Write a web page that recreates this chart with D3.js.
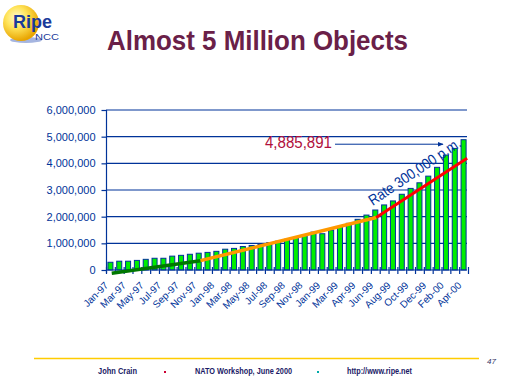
<!DOCTYPE html>
<html><head><meta charset="utf-8">
<script src="https://cdn.jsdelivr.net/npm/d3@7"></script>
<style>body{margin:0;background:#fff;} svg{display:block;font-family:Arial,"Liberation Sans",sans-serif;}</style>
</head><body>
<svg id="c" width="512" height="384"></svg>
<script>
// ---- data ----
const categories = ["Jan-97","Feb-97","Mar-97","Apr-97","May-97","Jun-97","Jul-97","Aug-97","Sep-97","Oct-97","Nov-97","Dec-97",
  "Jan-98","Feb-98","Mar-98","Apr-98","May-98","Jun-98","Jul-98","Aug-98","Sep-98","Oct-98","Nov-98","Dec-98",
  "Jan-99","Feb-99","Mar-99","Mar-99 (2)","Apr-99","May-99","Jun-99","Jul-99","Aug-99","Sep-99","Oct-99","Nov-99","Dec-99",
  "Jan-00","Feb-00","Mar-00","Apr-00"];
const objects = [290000,330000,330000,360000,400000,440000,440000,520000,550000,590000,630000,660000,
  700000,780000,810000,880000,920000,960000,1030000,1080000,1150000,1220000,1290000,1420000,
  1360000,1500000,1620000,1750000,1900000,2060000,2250000,2440000,2590000,2840000,3060000,3270000,3520000,
  3850000,4310000,4560000,4885891];
const yTickValues = [0,1000000,2000000,3000000,4000000,5000000,6000000];
const xTickLabels = ["Jan-97","Mar-97","May-97","Jul-97","Sep-97","Nov-97","Jan-98","Mar-98","May-98","Jul-98","Sep-98",
  "Nov-98","Jan-99","Mar-99","Apr-99","Jun-99","Aug-99","Oct-99","Dec-99","Feb-00","Apr-00"];
// trend lines (index position, value)
const trendGreen  = [[0.15,-120000],[10.2,350000]];
const trendOrange = [[10.2,350000],[30.1,1970000]];
const trendRed    = [[30.1,1970000],[40.4,4190000]];
const totalLabel = "4,885,891";
const rateLabel = "Rate 300,000 p.m.";
const title = "Almost 5 Million Objects";
const footer = ["John Crain","NATO Workshop, June 2000","http://www.ripe.net"];
const pageNo = "47";

// ---- drawing ----
const svg = d3.select("#c");
const navy = "#003399";
const N = categories.length;
const x = d3.scaleBand().domain(d3.range(N)).range([106,468]).paddingInner(0.43).paddingOuter(0.215);
const xc = d3.scaleLinear().domain([0,N-1]).range([x(0)+x.bandwidth()/2, x(N-1)+x.bandwidth()/2]);
const y = d3.scaleLinear().domain([0,6000000]).range([270,110]);

// logo
const defs = svg.append("defs");
const rg = defs.append("radialGradient").attr("id","sun").attr("cx","38%").attr("cy","35%").attr("r","65%");
rg.append("stop").attr("offset","0%").attr("stop-color","#fffbd0");
rg.append("stop").attr("offset","45%").attr("stop-color","#ffe45a");
rg.append("stop").attr("offset","100%").attr("stop-color","#e8a400");
svg.append("ellipse").attr("cx",26).attr("cy",40).attr("rx",16).attr("ry",3).attr("fill","#8fa3d8").attr("opacity",0.8);
svg.append("circle").attr("cx",21).attr("cy",23).attr("r",18).attr("fill","url(#sun)");
svg.append("text").attr("x",13).attr("y",28).attr("font-size",18).attr("font-weight","bold")
  .attr("fill","#1a3a9a").attr("textLength",39).attr("lengthAdjust","spacingAndGlyphs").text("Ripe");
svg.append("text").attr("x",35).attr("y",40).attr("font-size",8.5)
  .attr("fill","#1a3a9a").attr("textLength",24).attr("lengthAdjust","spacingAndGlyphs").text("NCC");

// title
svg.append("text").attr("x",107).attr("y",50).attr("font-size",28).attr("font-weight","bold")
  .attr("fill","#6a2048").attr("textLength",301).attr("lengthAdjust","spacingAndGlyphs").text(title);

// gridlines
svg.append("g").selectAll("line").data(yTickValues.slice(1)).join("line")
  .attr("x1",106).attr("x2",467).attr("y1",d=>y(d)).attr("y2",d=>y(d))
  .attr("stroke",navy).attr("stroke-width",1.2);

// bars
svg.append("g").selectAll("rect").data(objects).join("rect")
  .attr("x",(d,i)=>x(i)).attr("width",x.bandwidth())
  .attr("y",d=>y(d)).attr("height",d=>y(0)-y(d))
  .attr("fill","#00ee00").attr("stroke",navy).attr("stroke-width",1);

// y axis
const ya = svg.append("g").attr("transform","translate(106.5,0)")
  .call(d3.axisLeft(y).tickValues(yTickValues).tickSize(5).tickPadding(6).tickFormat(d3.format(",")));
ya.select(".domain").attr("stroke",navy).attr("stroke-width",1.2).attr("d","M0,110V273");
ya.selectAll(".tick line").attr("stroke",navy).attr("stroke-width",1.2);
ya.selectAll(".tick text").attr("fill",navy).attr("font-size",11).attr("font-family","Arial, 'Liberation Sans', sans-serif");

// x axis
const xb = d3.scaleLinear().domain([0,N]).range([106,468]);
const xa = svg.append("g").attr("transform","translate(0,270)")
  .call(d3.axisBottom(xb).tickValues(d3.range(N+1)).tickSize(4).tickFormat(""));
xa.select(".domain").attr("stroke",navy).attr("stroke-width",1.2).attr("d","M106,0H467");
xa.selectAll(".tick line").attr("stroke",navy).attr("stroke-width",1.2).attr("y1",-3);
const labIdx = d3.range(0,N,2);
svg.append("g").selectAll("text").data(labIdx).join("text")
  .attr("transform",i=>`translate(${xc(i)-1.4},286) rotate(-45)`)
  .attr("text-anchor","end").attr("font-size",10).attr("fill",navy)
  .text((i,k)=>xTickLabels[k]);

// trend lines
const line = d3.line().x(d=>xc(d[0])).y(d=>y(d[1]));
svg.append("path").attr("d",line(trendGreen)).attr("stroke","#007700").attr("stroke-width",3.5).attr("fill","none");
svg.append("path").attr("d",line(trendOrange)).attr("stroke","#ff9900").attr("stroke-width",3.5).attr("fill","none");
svg.append("path").attr("d",line(trendRed)).attr("stroke","#ff0000").attr("stroke-width",3).attr("fill","none");

// annotations
const ay = y(objects[N-1]) + 4.5;
svg.append("text").attr("x",265).attr("y",ay+4).attr("font-size",17).attr("fill","#b0103c")
  .attr("textLength",67).attr("lengthAdjust","spacingAndGlyphs").text(totalLabel);
defs.append("marker").attr("id","ah").attr("viewBox","0 0 10 10").attr("refX",9).attr("refY",5)
  .attr("markerWidth",6).attr("markerHeight",6).attr("orient","auto")
  .append("path").attr("d","M0,1L10,5L0,9Z").attr("fill",navy);
svg.append("line").attr("x1",335).attr("x2",443).attr("y1",ay).attr("y2",ay)
  .attr("stroke",navy).attr("stroke-width",1).attr("marker-end","url(#ah)");
svg.append("text").attr("transform",`translate(${xc(29.7)},206) rotate(-34)`)
  .attr("font-size",15).attr("fill",navy).attr("textLength",108).attr("lengthAdjust","spacingAndGlyphs").text(rateLabel);

// footer
svg.append("line").attr("x1",34).attr("x2",479).attr("y1",358.5).attr("y2",358.5).attr("stroke","#ffcc00").attr("stroke-width",1.3);
const fx = [[98,39],[195,97],[347,65]];
footer.forEach((t,k)=>{
  svg.append("text").attr("x",fx[k][0]).attr("y",374).attr("font-size",8.5).attr("font-weight","bold")
    .attr("fill","#1a1a66").attr("textLength",fx[k][1]).attr("lengthAdjust","spacingAndGlyphs").text(t);
});
svg.append("rect").attr("x",164).attr("y",371).attr("width",2).attr("height",2).attr("fill","#cc0033");
svg.append("rect").attr("x",317).attr("y",371).attr("width",2).attr("height",2).attr("fill","#00aaaa");
svg.append("text").attr("x",487).attr("y",364).attr("font-size",8).attr("font-style","italic")
  .attr("fill","#333366").text(pageNo);
</script>
</body></html>
